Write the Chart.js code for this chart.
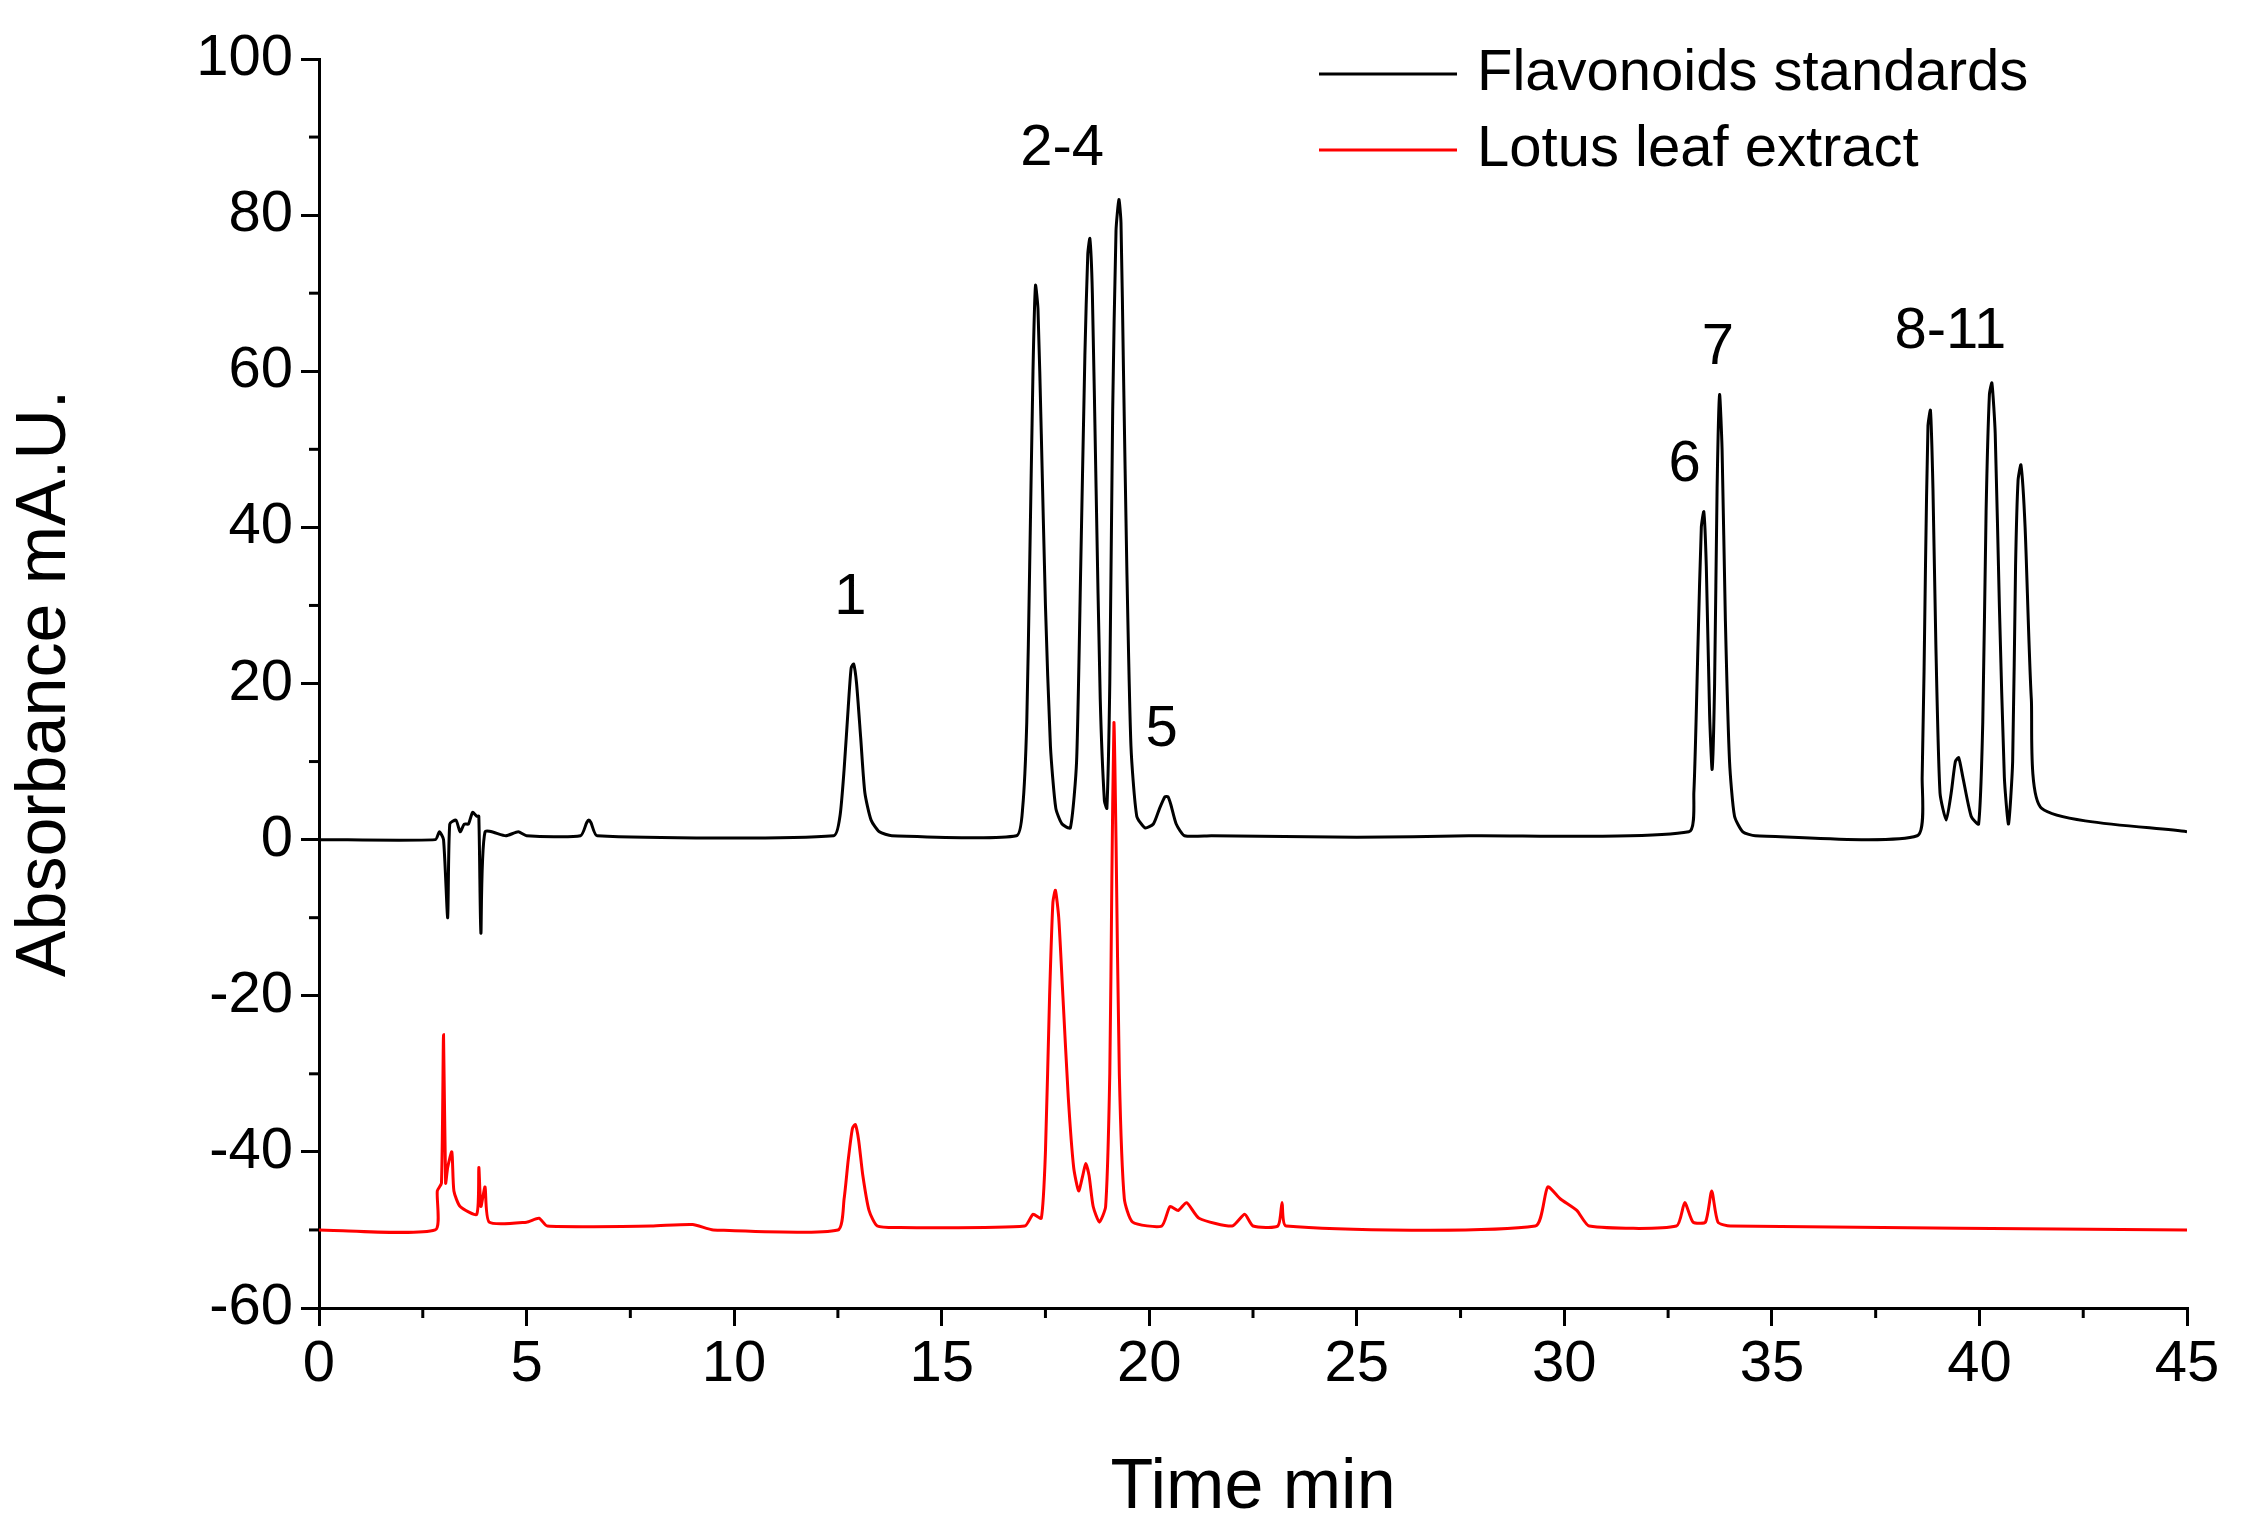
<!DOCTYPE html>
<html><head><meta charset="utf-8">
<script src="https://cdn.jsdelivr.net/npm/chart.js@4/dist/chart.umd.min.js"></script>
<style>html,body{margin:0;padding:0;background:#fff}canvas{display:block}</style>
</head><body>
<canvas id="c" width="2244" height="1535"></canvas>
<script>
const standardsTime = [0,2.8,2.9,3.0,3.1,3.15,3.3,3.4,3.5,3.6,3.7,3.8,3.85,3.9,4.0,4.5,4.8,5,6.3,6.45,6.5,6.55,6.7,12.4,12.55,12.65,12.75,12.82,12.88,12.95,13.05,13.15,13.3,13.5,13.8,16.8,16.95,17.05,17.12,17.2,17.26,17.32,17.4,17.5,17.62,17.75,17.9,18.1,18.25,18.35,18.45,18.52,18.57,18.63,18.72,18.82,18.92,18.98,19.05,19.12,19.2,19.27,19.32,19.38,19.46,19.56,19.7,19.9,20.1,20.25,20.38,20.45,20.52,20.65,20.85,21.5,25,27.7,33.0,33.12,33.22,33.3,33.36,33.42,33.5,33.56,33.62,33.68,33.74,33.8,33.88,33.98,34.1,34.3,34.6,38.5,38.62,38.7,38.76,38.82,38.88,38.95,39.05,39.2,39.32,39.42,39.5,39.6,39.8,39.98,40.08,40.16,40.24,40.3,40.38,40.48,40.6,40.7,40.8,40.87,40.93,41.0,41.1,41.25,41.5,45];
const standardsAbs = [0,0,1,0,-10,2,2.5,1,2,2,3.5,3,3,-12,1,0.5,1,0.5,0.5,2.2,2.5,2.2,0.5,0.5,3,9,17,22,22.5,20,13,6,2.5,1,0.5,0.5,4,15,35,60,71,68,52,30,12,4,2,1.5,10,35,62,75,77,70,45,18,5,4,20,55,78,82,79,60,35,12,3,1.5,2,4,5.5,5.5,4.5,2,0.5,0.5,0.3,0.5,1,6,25,40,42,35,16,9,20,45,57,50,28,10,3,1,0.5,0.5,8,35,53,55,45,25,6,2.5,6,10,10.5,8,3,2,15,42,57,58.5,52,30,8,2,10,35,46,48,40,18,4,1,0];
const extractTime = [0,2.8,2.85,2.95,3.0,3.05,3.1,3.2,3.25,3.4,3.8,3.85,3.9,4.0,4.1,5,5.3,5.5,8,9,9.5,12.5,12.65,12.75,12.85,12.92,13.0,13.1,13.25,13.45,14,17.0,17.2,17.4,17.5,17.6,17.68,17.74,17.82,17.92,18.05,18.18,18.3,18.4,18.47,18.55,18.65,18.8,18.95,19.05,19.1,19.15,19.2,19.28,19.4,19.6,20.3,20.5,20.7,20.9,21.2,22,22.3,22.5,23.1,23.2,23.3,29.3,29.6,29.9,30.3,30.6,32.7,32.9,33.1,33.4,33.55,33.7,34,45];
const extractAbs = [-50,-50,-45,-44,-25,-44,-42,-40,-45,-47,-48,-42,-47,-44.5,-49,-49,-48.5,-49.5,-49.5,-49.3,-50,-50,-46,-41,-37,-36.5,-38.5,-43,-47.5,-49.5,-49.7,-49.5,-48,-48.5,-40,-20,-8,-6.5,-10,-20,-33,-42,-45,-43,-41.5,-43,-47,-49,-47,-30,-5,15,0,-30,-46,-49,-49.5,-47,-47.5,-46.5,-48.5,-49.5,-48,-49.5,-49.5,-46.5,-49.5,-49.5,-44.5,-46,-47.5,-49.5,-49.5,-46.5,-49,-49,-45,-49,-49.5,-50];
const seriesNames = ["Flavonoids standards","Lotus leaf extract"];
const peakLabels = ["1","2-4","5","6","7","8-11"];
const peakLabelX = [12.8,17.9,20.3,32.9,33.7,39.3];
const peakLabelY = [31,88.5,14,48,63,65];

const FONT = "Arial, 'Liberation Sans', sans-serif";
const toPts = (xs, ys) => xs.map((x,i)=>({x:x,y:ys[i]}));

const extras = {
  id:'extras',
  afterDraw(chart){
    const ctx = chart.ctx, xs = chart.scales.x, ys = chart.scales.y, a = chart.chartArea;
    ctx.save();
    ctx.strokeStyle='#000'; ctx.lineWidth=3;
    for(let v=2.5; v<45; v+=5){ const px=xs.getPixelForValue(v); ctx.beginPath(); ctx.moveTo(px,a.bottom); ctx.lineTo(px,a.bottom+10); ctx.stroke(); }
    for(let v=-50; v<100; v+=20){ const py=ys.getPixelForValue(v); ctx.beginPath(); ctx.moveTo(a.left,py); ctx.lineTo(a.left-10,py); ctx.stroke(); }
    ctx.fillStyle='#000'; ctx.font='58px '+FONT; ctx.textAlign='center'; ctx.textBaseline='middle';
    peakLabels.forEach((t,i)=>ctx.fillText(t, xs.getPixelForValue(peakLabelX[i]), ys.getPixelForValue(peakLabelY[i])));
    const cols=['#000','#ff0000']; const ly=[74,150];
    ctx.textAlign='left';
    seriesNames.forEach((n,i)=>{
      ctx.strokeStyle=cols[i]; ctx.lineWidth=3;
      ctx.beginPath(); ctx.moveTo(1319,ly[i]); ctx.lineTo(1457,ly[i]); ctx.stroke();
      ctx.fillStyle='#000'; ctx.fillText(n,1477,ly[i]);
    });
    ctx.restore();
  }
};

new Chart(document.getElementById('c'),{
  type:'line',
  data:{datasets:[
    {label:seriesNames[0],data:toPts(standardsTime,standardsAbs),borderColor:'#000',borderWidth:3,pointRadius:0,tension:0.2},
    {label:seriesNames[1],data:toPts(extractTime,extractAbs),borderColor:'#ff0000',borderWidth:3,pointRadius:0,tension:0.2}
  ]},
  options:{
    responsive:false,animation:false,
    layout:{padding:{top:59,right:57,left:0,bottom:0}},
    plugins:{legend:{display:false},tooltip:{enabled:false}},
    scales:{
      x:{type:'linear',min:0,max:45,
        afterFit(s){s.height=227;},
        ticks:{stepSize:5,color:'#000',font:{size:58,family:FONT},padding:4,maxRotation:0},
        grid:{drawOnChartArea:false,tickLength:18,color:'#000',lineWidth:3},
        border:{color:'#000',width:3},
        title:{display:true,text:'Time min',color:'#000',font:{size:70,family:FONT},padding:{top:14}}},
      y:{min:-60,max:100,
        afterFit(s){s.width=319;},
        ticks:{stepSize:20,color:'#000',font:{size:58,family:FONT},padding:8},
        grid:{drawOnChartArea:false,tickLength:18,color:'#000',lineWidth:3},
        border:{color:'#000',width:3},
        title:{display:true,text:'Absorbance mA.U.',color:'#000',font:{size:70,family:FONT},padding:{bottom:6}}}
    }
  },
  plugins:[extras]
});
</script>
</body></html>
